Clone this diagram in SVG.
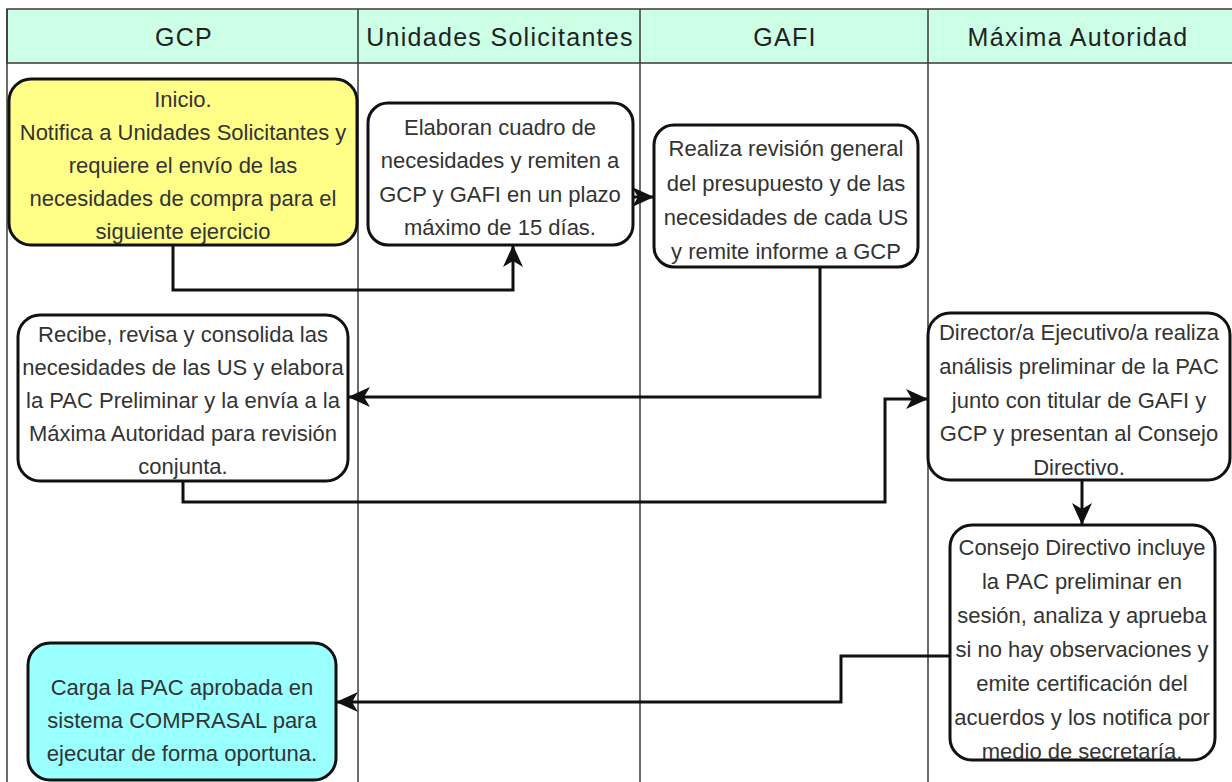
<svg xmlns="http://www.w3.org/2000/svg" width="1232" height="782" viewBox="0 0 1232 782">
  <defs>
    <style>
      .lane { fill: none; stroke: #3a3a3a; stroke-width: 1.5; }
      .hdr { fill: #ccffe6; stroke: #3a3a3a; stroke-width: 1.5; }
      .htxt { font-family: "Liberation Sans", Arial, sans-serif; font-size: 25px; letter-spacing: 1.3px; fill: #222; text-anchor: middle; }
      .node { stroke: #111; stroke-width: 3; }
      .ntxt { font-family: "Liberation Sans", Arial, sans-serif; font-size: 22px; fill: #333; text-anchor: middle; }
      .conn { fill: none; stroke: #111; stroke-width: 3; marker-end: url(#arrow); }
    </style>
    <marker id="arrow" markerUnits="userSpaceOnUse" markerWidth="22" markerHeight="20" viewBox="0 0 22 20" refX="21" refY="10" orient="auto">
      <path d="M0,0 L22,10 L0,20 L6,10 Z" fill="#111"/>
    </marker>
  </defs>

  <rect width="1232" height="782" fill="#ffffff"/>

  <g id="pool">
    <rect class="hdr" x="7" y="9" width="1235" height="54"/>
    <line class="lane" x1="7" y1="9" x2="7" y2="782"/>
    <line class="lane" x1="358" y1="9" x2="358" y2="782"/>
    <line class="lane" x1="640" y1="9" x2="640" y2="782"/>
    <line class="lane" x1="928" y1="9" x2="928" y2="782"/>
    <text class="htxt" x="184" y="46">GCP</text>
    <text class="htxt" x="500" y="46">Unidades Solicitantes</text>
    <text class="htxt" x="785" y="46">GAFI</text>
    <text class="htxt" x="1078" y="46">Máxima Autoridad</text>
  </g>

  <g id="connectors">
    <path class="conn" d="M173,245 V290 H513 V246"/>
    <path class="conn" d="M633,197 H653"/>
    <path class="conn" d="M820,267 V397 H349"/>
    <path class="conn" d="M183,481 V502 H885 V399 H927"/>
    <path class="conn" d="M1082,480 V524"/>
    <path class="conn" d="M950,656 H841 V702 H337"/>
  </g>

  <g id="n1">
    <rect class="node" x="9" y="79" width="348" height="166" rx="22" fill="#ffff88"/>
    <text class="ntxt" x="183" y="107">Inicio.</text>
    <text class="ntxt" x="183" y="140">Notifica a Unidades Solicitantes y</text>
    <text class="ntxt" x="183" y="173">requiere el envío de las</text>
    <text class="ntxt" x="183" y="206">necesidades de compra para el</text>
    <text class="ntxt" x="183" y="239">siguiente ejercicio</text>
  </g>

  <g id="n2">
    <rect class="node" x="368" y="103" width="265" height="142" rx="20" fill="#ffffff"/>
    <text class="ntxt" x="500" y="135">Elaboran cuadro de</text>
    <text class="ntxt" x="500" y="168">necesidades y remiten a</text>
    <text class="ntxt" x="500" y="202">GCP y GAFI en un plazo</text>
    <text class="ntxt" x="500" y="235">máximo de 15 días.</text>
  </g>

  <g id="n3">
    <rect class="node" x="654" y="125" width="264" height="142" rx="20" fill="#ffffff"/>
    <text class="ntxt" x="786" y="156">Realiza revisión general</text>
    <text class="ntxt" x="786" y="191">del presupuesto y de las</text>
    <text class="ntxt" x="786" y="225">necesidades de cada US</text>
    <text class="ntxt" x="786" y="259">y remite informe a GCP</text>
  </g>

  <g id="n4">
    <rect class="node" x="18" y="315" width="330" height="166" rx="22" fill="#ffffff"/>
    <text class="ntxt" x="183" y="342">Recibe, revisa y consolida las</text>
    <text class="ntxt" x="183" y="375">necesidades de las US y elabora</text>
    <text class="ntxt" x="183" y="408">la PAC Preliminar y la envía a la</text>
    <text class="ntxt" x="183" y="441">Máxima Autoridad para revisión</text>
    <text class="ntxt" x="183" y="474">conjunta.</text>
  </g>

  <g id="n5">
    <rect class="node" x="928" y="313" width="302" height="167" rx="22" fill="#ffffff"/>
    <text class="ntxt" x="1079" y="340">Director/a Ejecutivo/a realiza</text>
    <text class="ntxt" x="1079" y="374">análisis preliminar de la PAC</text>
    <text class="ntxt" x="1079" y="408">junto con titular de GAFI y</text>
    <text class="ntxt" x="1079" y="441">GCP y presentan al Consejo</text>
    <text class="ntxt" x="1079" y="475">Directivo.</text>
  </g>

  <g id="n6">
    <rect class="node" x="950" y="525" width="265" height="235" rx="22" fill="#ffffff"/>
    <text class="ntxt" x="1082" y="555">Consejo Directivo incluye</text>
    <text class="ntxt" x="1082" y="589">la PAC preliminar en</text>
    <text class="ntxt" x="1082" y="623">sesión, analiza y aprueba</text>
    <text class="ntxt" x="1082" y="657">si no hay observaciones y</text>
    <text class="ntxt" x="1082" y="691">emite certificación del</text>
    <text class="ntxt" x="1082" y="725">acuerdos y los notifica por</text>
    <text class="ntxt" x="1082" y="759">medio de secretaría.</text>
  </g>

  <g id="n7">
    <rect class="node" x="28" y="643" width="308" height="137" rx="22" fill="#99ffff"/>
    <text class="ntxt" x="182" y="695">Carga la PAC aprobada en</text>
    <text class="ntxt" x="182" y="728">sistema COMPRASAL para</text>
    <text class="ntxt" x="182" y="761">ejecutar de forma oportuna.</text>
  </g>
</svg>
